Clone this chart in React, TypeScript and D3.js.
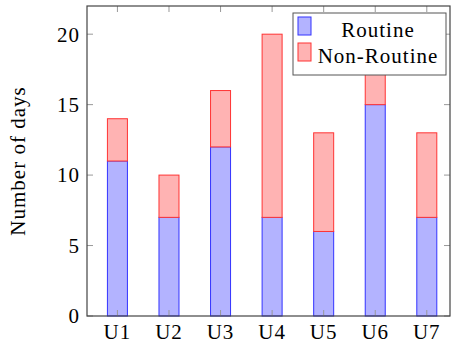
import React from 'react';
import * as d3 from 'd3';

const users = ['U1', 'U2', 'U3', 'U4', 'U5', 'U6', 'U7'];
const routine = [11, 7, 12, 7, 6, 15, 7];
const nonRoutine = [3, 3, 4, 13, 7, 3, 6];
const yTicks = [0, 5, 10, 15, 20];

const W = 453;
const H = 344;
const margin = { top: 6, right: 3, bottom: 28, left: 87 };
const font = '"Liberation Serif", "DejaVu Serif", serif';

export default function App() {
  const innerW = W - margin.left - margin.right;
  const innerH = H - margin.top - margin.bottom;

  const x = d3.scaleLinear().domain([0.41, 7.45]).range([0, innerW]);
  const y = d3.scaleLinear().domain([0, 22]).range([innerH, 0]);
  const barW = x(1.388) - x(1);

  const rows = users.map((u, i) => ({ u, i: i + 1, r: routine[i], n: nonRoutine[i] }));
  const stack = d3.stack<any>().keys(['r', 'n'])(rows);
  const fills = ['#b3b3ff', '#ffb3b3'];
  const strokes = ['#3333ff', '#ff3333'];
  const tickCol = '#999';
  const txt = { fontFamily: font, fontSize: 21, letterSpacing: 1 };

  return (
    <svg width={W} height={H} style={{ position: 'absolute', left: 0, top: 0, background: '#fff' }}>
      <g transform={`translate(${margin.left},${margin.top})`}>
        {stack.map((s, k) => (
          <g key={s.key}>
            {s.map((d) => (
              <rect key={d.data.u} x={x(d.data.i) - barW / 2} y={y(d[1])} width={barW}
                height={y(d[0]) - y(d[1])} fill={fills[k]} stroke={strokes[k]} strokeWidth={1} />
            ))}
          </g>
        ))}

        {yTicks.map((t) => (
          <g key={t}>
            <line x1={0} x2={6} y1={y(t)} y2={y(t)} stroke={tickCol} />
            <line x1={innerW - 6} x2={innerW} y1={y(t)} y2={y(t)} stroke={tickCol} />
            <text x={-7} y={y(t)} dy="0.35em" textAnchor="end" {...txt}>{t}</text>
          </g>
        ))}
        {users.map((u, i) => (
          <g key={u}>
            <line x1={x(i + 1)} x2={x(i + 1)} y1={0} y2={6} stroke={tickCol} />
            <line x1={x(i + 1)} x2={x(i + 1)} y1={innerH - 6} y2={innerH} stroke={tickCol} />
            <text x={x(i + 1)} y={innerH + 23} textAnchor="middle" {...txt}>{u}</text>
          </g>
        ))}

        <rect x={0} y={0} width={innerW} height={innerH} fill="none" stroke="#444" strokeWidth={1.2} />

        <text transform={`translate(${-62},${innerH / 2}) rotate(-90)`} textAnchor="middle"
          {...txt}>Number of days</text>

        <g transform={`translate(${206},${7})`}>
          <rect x={0} y={0} width={153} height={62} fill="#fff" stroke="#555" strokeWidth={1} />
          <rect x={5} y={4} width={13} height={18} fill={fills[0]} stroke={strokes[0]} />
          <rect x={5} y={30} width={13} height={18} fill={fills[1]} stroke={strokes[1]} />
          <text x={85} y={24} textAnchor="middle" {...txt}>Routine</text>
          <text x={85} y={50} textAnchor="middle" {...txt}>Non-Routine</text>
        </g>
      </g>
    </svg>
  );
}
